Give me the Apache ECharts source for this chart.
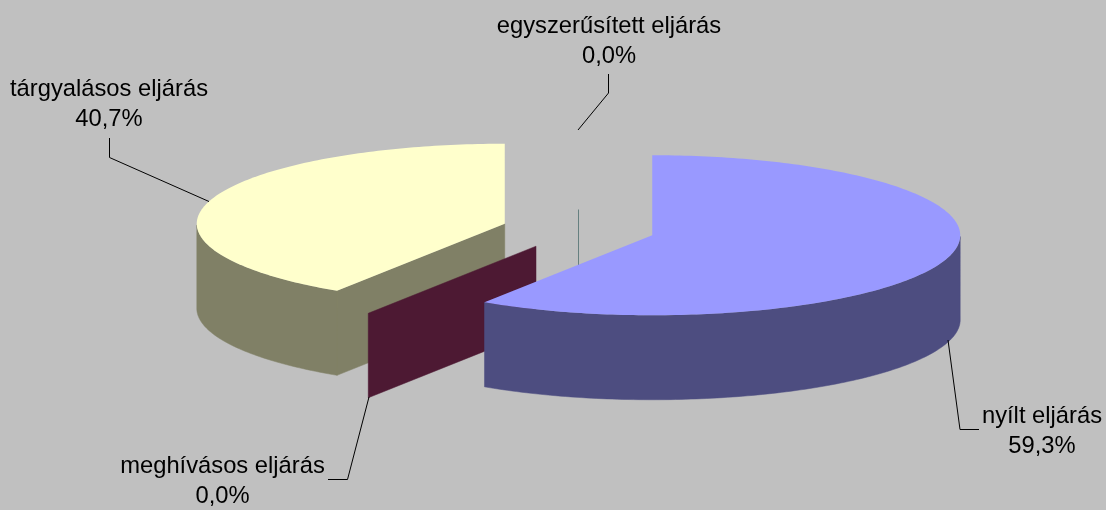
<!DOCTYPE html>
<html>
<head>
<meta charset="utf-8">
<style>
  html, body { margin: 0; padding: 0; background: #c0c0c0; }
  #chart { width: 1106px; height: 510px; }
</style>
</head>
<body>
<div id="chart"></div>
<script src="https://cdn.jsdelivr.net/npm/echarts@6/dist/echarts.min.js"></script>
<script>
// slices run clockwise from 12 o'clock, in this order
const categories = ['nyílt eljárás', 'meghívásos eljárás', 'tárgyalásos eljárás', 'egyszerűsített eljárás'];
const shares = [59.3, 0, 40.7, 0];
const shareLabels = ['59,3%', '0,0%', '40,7%', '0,0%'];

const topColors = ['#9999ff', '#993366', '#ffffcc', '#ccffff'];
const wallColors = ['#4d4d80', '#4d1933', '#808066', '#668080'];
// blue sits over everything else, yellow at the back
const drawOrder = [4, 2, 1, 3];

// label text centre and leader line for each slice
const labelPos = [[1042, 431], [222.5, 481], [109, 104], [609, 41]];
const leaders = [
  [[948, 340], [960, 429.5], [979, 429.5]],
  [[369, 397], [347.5, 479.5], [328, 479.5]],
  [[209, 201.5], [109.5, 157.5], [109.5, 138]],
  [[578, 130], [608.5, 93], [608.5, 74]]
];

// pie geometry: 3d ellipse
// skew is the small angle shift the excel perspective gives on the sides
const pie = { cx: 578.5, cy: 229.5, rx: 308, ry: 80, depth: 84.5, explode: 0.25, skew: 0.87 };

function ellipsePoint(c, deg) {
  const a = (deg + pie.skew * Math.sin(deg * Math.PI / 180)) * Math.PI / 180;
  return [c[0] + pie.rx * Math.sin(a), c[1] - pie.ry * Math.cos(a)];
}

function arcPoints(c, from, to, dy) {
  const pts = [];
  const steps = Math.max(1, Math.ceil(Math.abs(to - from)));
  for (let i = 0; i <= steps; i++) {
    const p = ellipsePoint(c, from + (to - from) * i / steps);
    pts.push([p[0], p[1] + dy]);
  }
  return pts;
}

function renderSlice(params, api) {
  const i = params.dataIndex;
  const total = shares.reduce((s, v) => s + v, 0);
  const start = shares.slice(0, i).reduce((s, v) => s + v, 0) / total * 360;
  const sweep = api.value(0) / total * 360;
  const end = start + sweep;
  const mid = (start + end) / 2;
  const a = mid * Math.PI / 180;
  const c = [
    pie.cx + pie.explode * pie.rx * Math.sin(a),
    pie.cy - pie.explode * pie.ry * Math.cos(a)
  ];
  const z = drawOrder[i] * 10;
  const children = [];
  const wallStyle = { fill: wallColors[i], stroke: wallColors[i], lineWidth: 0.5 };

  if (start >= 360) {
    // empty slice straight up: only its axis edge shows
    children.push({
      type: 'line',
      z2: z,
      shape: { x1: c[0], y1: c[1], x2: c[0], y2: c[1] + pie.depth },
      style: { stroke: wallColors[i], lineWidth: 1 }
    });
  } else if (start > 180) {
    // straight wall on the opening edge faces the viewer
    const e = ellipsePoint(c, start);
    children.push({
      type: 'polygon',
      z2: z,
      shape: { points: [c, e, [e[0], e[1] + pie.depth], [c[0], c[1] + pie.depth]] },
      style: wallStyle
    });
  }

  // outer wall, front half of the ellipse only
  const wallFrom = Math.max(start, 90);
  const wallTo = Math.min(end, 270);
  if (sweep > 0 && wallTo > wallFrom) {
    const topEdge = arcPoints(c, wallFrom, wallTo, 0);
    const bottomEdge = arcPoints(c, wallTo, wallFrom, pie.depth);
    children.push({
      type: 'polygon',
      z2: z + 1,
      shape: { points: topEdge.concat(bottomEdge) },
      style: wallStyle
    });
  }

  if (sweep > 0) {
    children.push({
      type: 'polygon',
      z2: z + 2,
      shape: { points: [c].concat(arcPoints(c, start, end, 0)) },
      style: { fill: topColors[i] }
    });
  }

  // leader line and label
  children.push({
    type: 'polyline',
    z2: 100,
    shape: { points: leaders[i] },
    style: { fill: null, stroke: '#000', lineWidth: 1 }
  });
  children.push({
    type: 'text',
    z2: 101,
    style: {
      x: labelPos[i][0],
      y: labelPos[i][1],
      text: api.value(1) + '\n' + shareLabels[i],
      fill: '#000',
      fontFamily: '"Liberation Sans"',
      fontSize: 23.75,
      lineHeight: 30,
      align: 'center',
      verticalAlign: 'middle'
    }
  });
  return { type: 'group', children };
}

const chart = echarts.init(document.getElementById('chart'), null, { renderer: 'canvas' });
chart.setOption({
  animation: false,
  backgroundColor: '#c0c0c0',
  series: [{
    type: 'custom',
    coordinateSystem: 'none',
    renderItem: renderSlice,
    data: categories.map((name, i) => [shares[i], name])
  }]
});
</script>
</body>
</html>
